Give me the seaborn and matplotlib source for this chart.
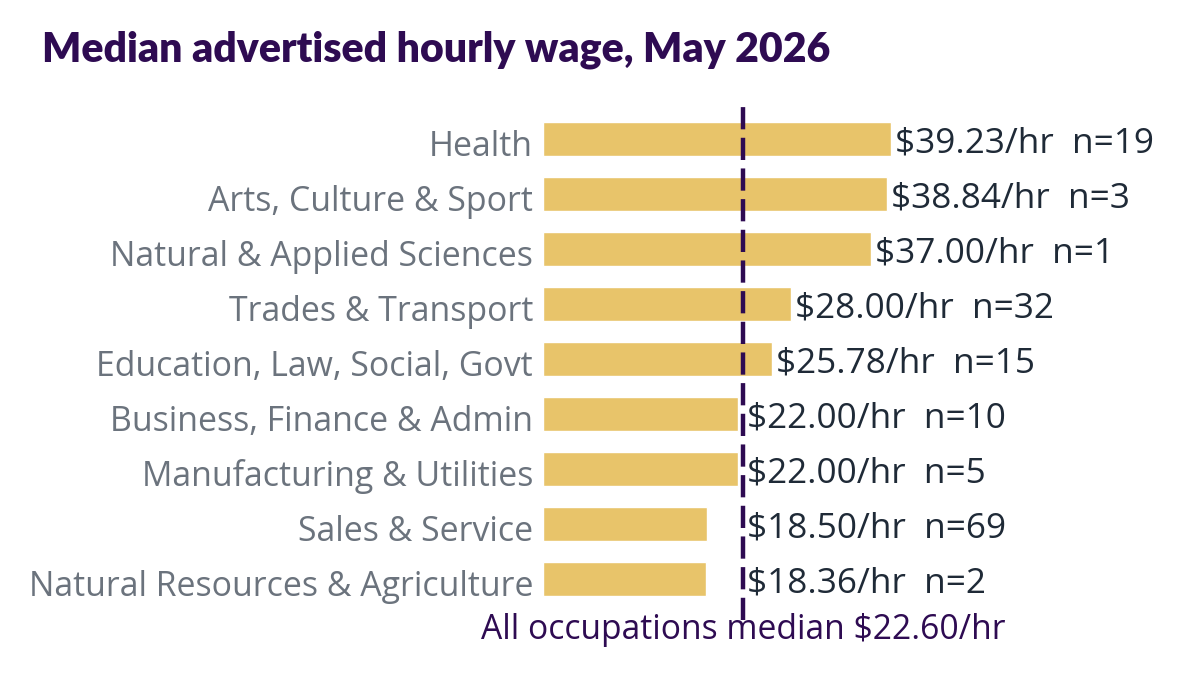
import matplotlib
matplotlib.use("Agg")
from matplotlib import pyplot as plt
from matplotlib.transforms import ScaledTranslation
import pandas as pd
import seaborn as sns

# Data
categories = ["Health", "Arts, Culture & Sport", "Natural & Applied Sciences",
              "Trades & Transport", "Education, Law, Social, Govt",
              "Business, Finance & Admin", "Manufacturing & Utilities",
              "Sales & Service", "Natural Resources & Agriculture"]
wages = [39.23, 38.84, 37.00, 28.00, 25.78, 22.00, 22.00, 18.50, 18.36]
counts = [19, 3, 1, 32, 15, 10, 5, 69, 2]
overall_median = 22.60

df = pd.DataFrame({"category": categories, "wage": wages, "n": counts})

purple = "#2E0B52"
gold = "#E8C46A"
grey = "#6B737D"
dark = "#1F2A37"

sns.set_style("white")
plt.rcParams['font.family'] = ['Open Sans', 'DejaVu Sans']

fig = plt.figure(figsize=(11.8, 6.99), dpi=100)
ax = fig.add_axes([0.460, 0.113, 0.376, 0.744])

sns.barplot(data=df, y="category", x="wage", color=gold, width=0.62,
            saturation=1, ax=ax)

ax.axvline(overall_median, color=purple, lw=3.2, linestyle=(0, (5.0, 1.9)))

# value labels, pushed right of the median line when bar is shorter
for i, row in df.iterrows():
    xpos = max(row["wage"], overall_median) + 0.45
    ax.text(xpos, i + 0.08, f"${row['wage']:.2f}/hr  n={row['n']}", va="center",
            ha="left", fontsize=25.3, color=dark)

fig.text(743 / 1180, 1 - 630 / 699, f"All occupations median ${overall_median:.2f}/hr",
         ha="center", va="center", fontsize=24.2, color=purple)

ax.set_xlim(0, 50)
ax.set_ylim(8.75, -0.71)
ax.set_xlabel("")
ax.set_ylabel("")
ax.set_xticks([])
ax.tick_params(axis="y", length=0, pad=7, labelsize=24.4, labelcolor=grey)
shift = ScaledTranslation(0, -0.04, fig.dpi_scale_trans)
for lab in ax.get_yticklabels():
    lab.set_transform(lab.get_transform() + shift)
sns.despine(ax=ax, left=True, bottom=True)

fig.text(42 / 1180, 1 - 50 / 699, "Median advertised hourly wage, May 2026",
         ha="left", va="center", fontsize=29.5, fontweight="heavy",
         family=["Lato", "DejaVu Sans"], color=purple)

fig.savefig("out.png", dpi=100, facecolor="white")
